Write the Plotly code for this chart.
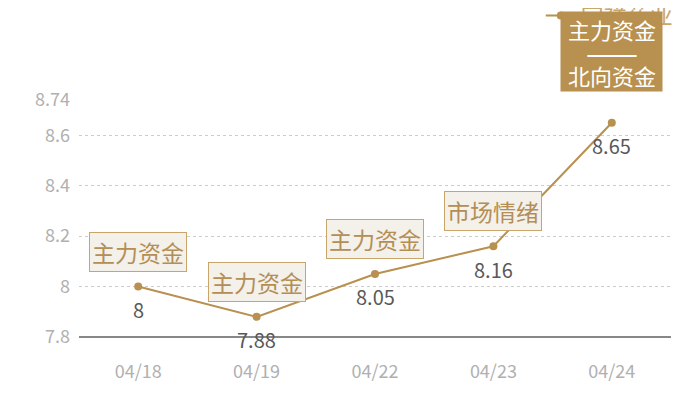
import plotly.graph_objects as go

dates = ["04/18", "04/19", "04/22", "04/23", "04/24"]
prices = [8.0, 7.88, 8.05, 8.16, 8.65]
value_text = ["8", "7.88", "8.05", "8.16", "8.65"]
tags = ["主力资金", "主力资金", "主力资金", "市场情绪", ""]
stock_name = "宝祥药业"
tip_lines = ["主力资金", "——", "北向资金"]

y_ticks = [7.8, 8, 8.2, 8.4, 8.6, 8.74]
y_tick_text = ["7.8", "8", "8.2", "8.4", "8.6", "8.74"]

gold = "#b8904f"
font_cn = "Noto Sans CJK SC"

fig = go.Figure()
fig.add_trace(go.Scatter(
    x=dates, y=prices, name=stock_name,
    mode="lines+markers",
    line=dict(color=gold, width=2),
    marker=dict(color=gold, size=8),
    cliponaxis=False,
))

# value labels under the points and tag boxes above them
for d, p, v, t in zip(dates, prices, value_text, tags):
    fig.add_annotation(
        x=d, y=p, text=v, showarrow=False, yshift=-23,
        font=dict(family=font_cn, size=20, color="#595959"),
    )
    if not t:
        continue
    fig.add_annotation(
        x=d, y=p, text=t, showarrow=False, yshift=35,
        font=dict(family=font_cn, size=23, color="#b38e55"),
        bgcolor="#f4f0ea", bordercolor="#c9a56b", borderwidth=1, borderpad=2,
    )

# tooltip box at last point: background, then the lines on top of it
fig.add_annotation(
    x=dates[-1], y=1.205, yref="paper", yanchor="middle", text=" ",
    showarrow=False, width=99, height=77, bgcolor=gold, borderpad=1,
)
for line, shift, size in zip(tip_lines, [22, 0, -24], [22, 31, 22]):
    fig.add_annotation(
        x=dates[-1], y=1.205, yref="paper", yanchor="middle", yshift=shift,
        text=line, showarrow=False,
        font=dict(family=font_cn, size=size, color="white"),
    )

fig.update_layout(
    width=700, height=400,
    margin=dict(l=71, r=36.5, t=92, b=71, autoexpand=False),
    paper_bgcolor="white", plot_bgcolor="white",
    font=dict(family=font_cn),
    showlegend=True,
    legend=dict(x=0.78, y=1.447, xanchor="left", yanchor="top",
                font=dict(family=font_cn, size=23, color="#c9a66b"),
                bgcolor="rgba(0,0,0,0)"),
    xaxis=dict(
        type="category", range=[-0.5, 4.5], showgrid=False, ticks="",
        tickfont=dict(size=18, color="#b0b0b0"), ticklabelstandoff=22,
        showline=False, zeroline=False,
    ),
    yaxis=dict(
        range=[7.8, 8.74], tickvals=y_ticks, ticktext=y_tick_text,
        showgrid=True, gridcolor="#cccccc", griddash="dot", gridwidth=1,
        tickfont=dict(size=18, color="#b0b0b0"), ticklabelstandoff=8,
        zeroline=False, showline=False, ticks="",
    ),
)
fig.add_shape(type="line", xref="paper", yref="paper", x0=0, x1=1, y0=0, y1=0,
              line=dict(color="#111111", width=1), layer="above")

fig.write_html("out.html")
